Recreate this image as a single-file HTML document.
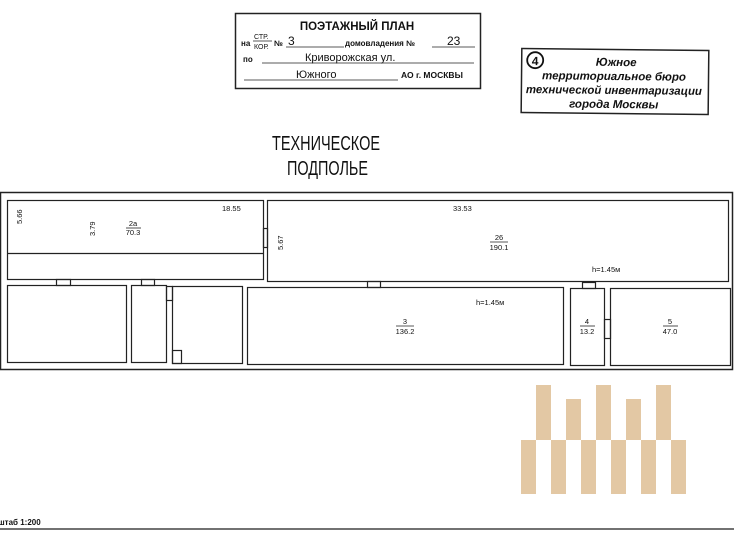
<!DOCTYPE html>
<html><head><meta charset="utf-8"><style>
html,body{margin:0;padding:0;background:#fff;}
svg{display:block;}
text{font-family:"Liberation Sans",sans-serif;fill:#111;}
</style></head><body>
<svg width="734" height="535" viewBox="0 0 734 535" xmlns="http://www.w3.org/2000/svg">
<!-- header box -->
<rect x="235.5" y="13.5" width="245" height="75" fill="none" stroke="#222" stroke-width="1.5"/>
<text x="357" y="30" font-size="11.5" font-weight="bold" text-anchor="middle">ПОЭТАЖНЫЙ ПЛАН</text>
<text x="241" y="46" font-size="8" font-weight="bold">на</text>
<text x="254" y="39" font-size="7">СТР.</text>
<line x1="253" y1="41" x2="272" y2="41" stroke="#222" stroke-width="0.8"/>
<text x="254" y="49" font-size="7">КОР.</text>
<text x="274" y="46" font-size="8" font-weight="bold">№</text>
<text x="288" y="45" font-size="12">3</text>
<line x1="286" y1="47" x2="344" y2="47" stroke="#222" stroke-width="0.8"/>
<text x="345" y="46" font-size="8" font-weight="bold">домовладения №</text>
<text x="447" y="45" font-size="12">23</text>
<line x1="432" y1="47" x2="475" y2="47" stroke="#222" stroke-width="0.8"/>
<text x="243" y="62" font-size="8" font-weight="bold">по</text>
<text x="305" y="61" font-size="11">Криворожская ул.</text>
<line x1="262" y1="63" x2="474" y2="63" stroke="#222" stroke-width="0.8"/>
<text x="296" y="78" font-size="11">Южного</text>
<line x1="244" y1="80" x2="398" y2="80" stroke="#222" stroke-width="0.8"/>
<text x="401" y="78" font-size="8.5" font-weight="bold">АО г. МОСКВЫ</text>

<!-- stamp box -->
<g transform="rotate(0.6 614 80)">
<rect x="521.5" y="49.5" width="187" height="64" fill="none" stroke="#222" stroke-width="1.5"/>
<circle cx="535" cy="61" r="8" fill="none" stroke="#111" stroke-width="1.8"/>
<text x="535" y="66" font-size="12" font-weight="bold" text-anchor="middle">4</text>
<g font-style="italic" font-weight="bold" font-size="11.5">
<text x="616" y="66" text-anchor="middle">Южное</text>
<text x="614" y="80" text-anchor="middle">территориальное бюро</text>
<text x="614" y="94" text-anchor="middle" textLength="176" lengthAdjust="spacingAndGlyphs">технической инвентаризации</text>
<text x="614" y="108" text-anchor="middle">города Москвы</text>
</g>
</g>

<!-- title -->
<text x="272" y="150" font-size="20" textLength="108" lengthAdjust="spacingAndGlyphs">ТЕХНИЧЕСКОЕ</text>
<text x="287" y="175" font-size="20" textLength="81" lengthAdjust="spacingAndGlyphs">ПОДПОЛЬЕ</text>

<!-- plan -->
<g fill="none" stroke="#222" stroke-width="1.2">
<rect x="0.5" y="192.5" width="732" height="177" stroke-width="1.5"/>
<rect x="7.5" y="200.5" width="256" height="79"/>
<line x1="7" y1="253.5" x2="263" y2="253.5"/>
<rect x="267.5" y="200.5" width="461" height="81"/>
<rect x="263.5" y="228.5" width="4" height="19"/>
<rect x="7.5" y="285.5" width="119" height="77"/>
<rect x="56.5" y="279.5" width="14" height="6"/>
<rect x="131.5" y="285.5" width="35" height="77"/>
<rect x="141.5" y="279.5" width="13" height="6"/>
<rect x="166.5" y="286.5" width="6" height="14"/>
<rect x="172.5" y="286.5" width="70" height="77"/>
<rect x="172.5" y="350.5" width="9" height="13"/>
<rect x="247.5" y="287.5" width="316" height="77"/>
<rect x="367.5" y="281.5" width="13" height="6"/>
<rect x="570.5" y="288.5" width="34" height="77"/>
<rect x="582.5" y="282.5" width="13" height="6"/>
<rect x="610.5" y="288.5" width="120" height="77"/>
<rect x="604.5" y="319.5" width="6" height="19"/>
</g>
<g font-size="7.5">
<text x="222" y="211">18.55</text>
<text transform="translate(22 224) rotate(-90)">5.66</text>
<text transform="translate(95 236) rotate(-90)">3.79</text>
<text x="133" y="226" text-anchor="middle">2а</text>
<line x1="126" y1="228" x2="141" y2="228" stroke="#222" stroke-width="0.8"/>
<text x="133" y="235" text-anchor="middle">70.3</text>
<text transform="translate(283 250) rotate(-90)">5.67</text>
<text x="453" y="211">33.53</text>
<text x="499" y="240" text-anchor="middle">26</text>
<line x1="490" y1="242" x2="508" y2="242" stroke="#222" stroke-width="0.8"/>
<text x="499" y="250" text-anchor="middle">190.1</text>
<text x="592" y="272">h=1.45м</text>
<text x="476" y="305">h=1.45м</text>
<text x="405" y="324" text-anchor="middle">3</text>
<line x1="396" y1="326" x2="414" y2="326" stroke="#222" stroke-width="0.8"/>
<text x="405" y="334" text-anchor="middle">136.2</text>
<text x="587" y="324" text-anchor="middle">4</text>
<line x1="580" y1="326" x2="595" y2="326" stroke="#222" stroke-width="0.8"/>
<text x="587" y="334" text-anchor="middle">13.2</text>
<text x="670" y="324" text-anchor="middle">5</text>
<line x1="663" y1="326" x2="678" y2="326" stroke="#222" stroke-width="0.8"/>
<text x="670" y="334" text-anchor="middle">47.0</text>
</g>

<!-- watermark -->
<g fill="#e3c8a4">
<rect x="536" y="385" width="15" height="55"/>
<rect x="566" y="399" width="15" height="41"/>
<rect x="596" y="385" width="15" height="55"/>
<rect x="626" y="399" width="15" height="41"/>
<rect x="656" y="385" width="15" height="55"/>
<rect x="521" y="440" width="15" height="54"/>
<rect x="551" y="440" width="15" height="54"/>
<rect x="581" y="440" width="15" height="54"/>
<rect x="611" y="440" width="15" height="54"/>
<rect x="641" y="440" width="15" height="54"/>
<rect x="671" y="440" width="15" height="54"/>
</g>

<text x="-2" y="525" font-size="8" font-weight="bold">штаб 1:200</text>
<line x1="0" y1="529" x2="734" y2="529" stroke="#444" stroke-width="1.5"/>
</svg>
</body></html>
